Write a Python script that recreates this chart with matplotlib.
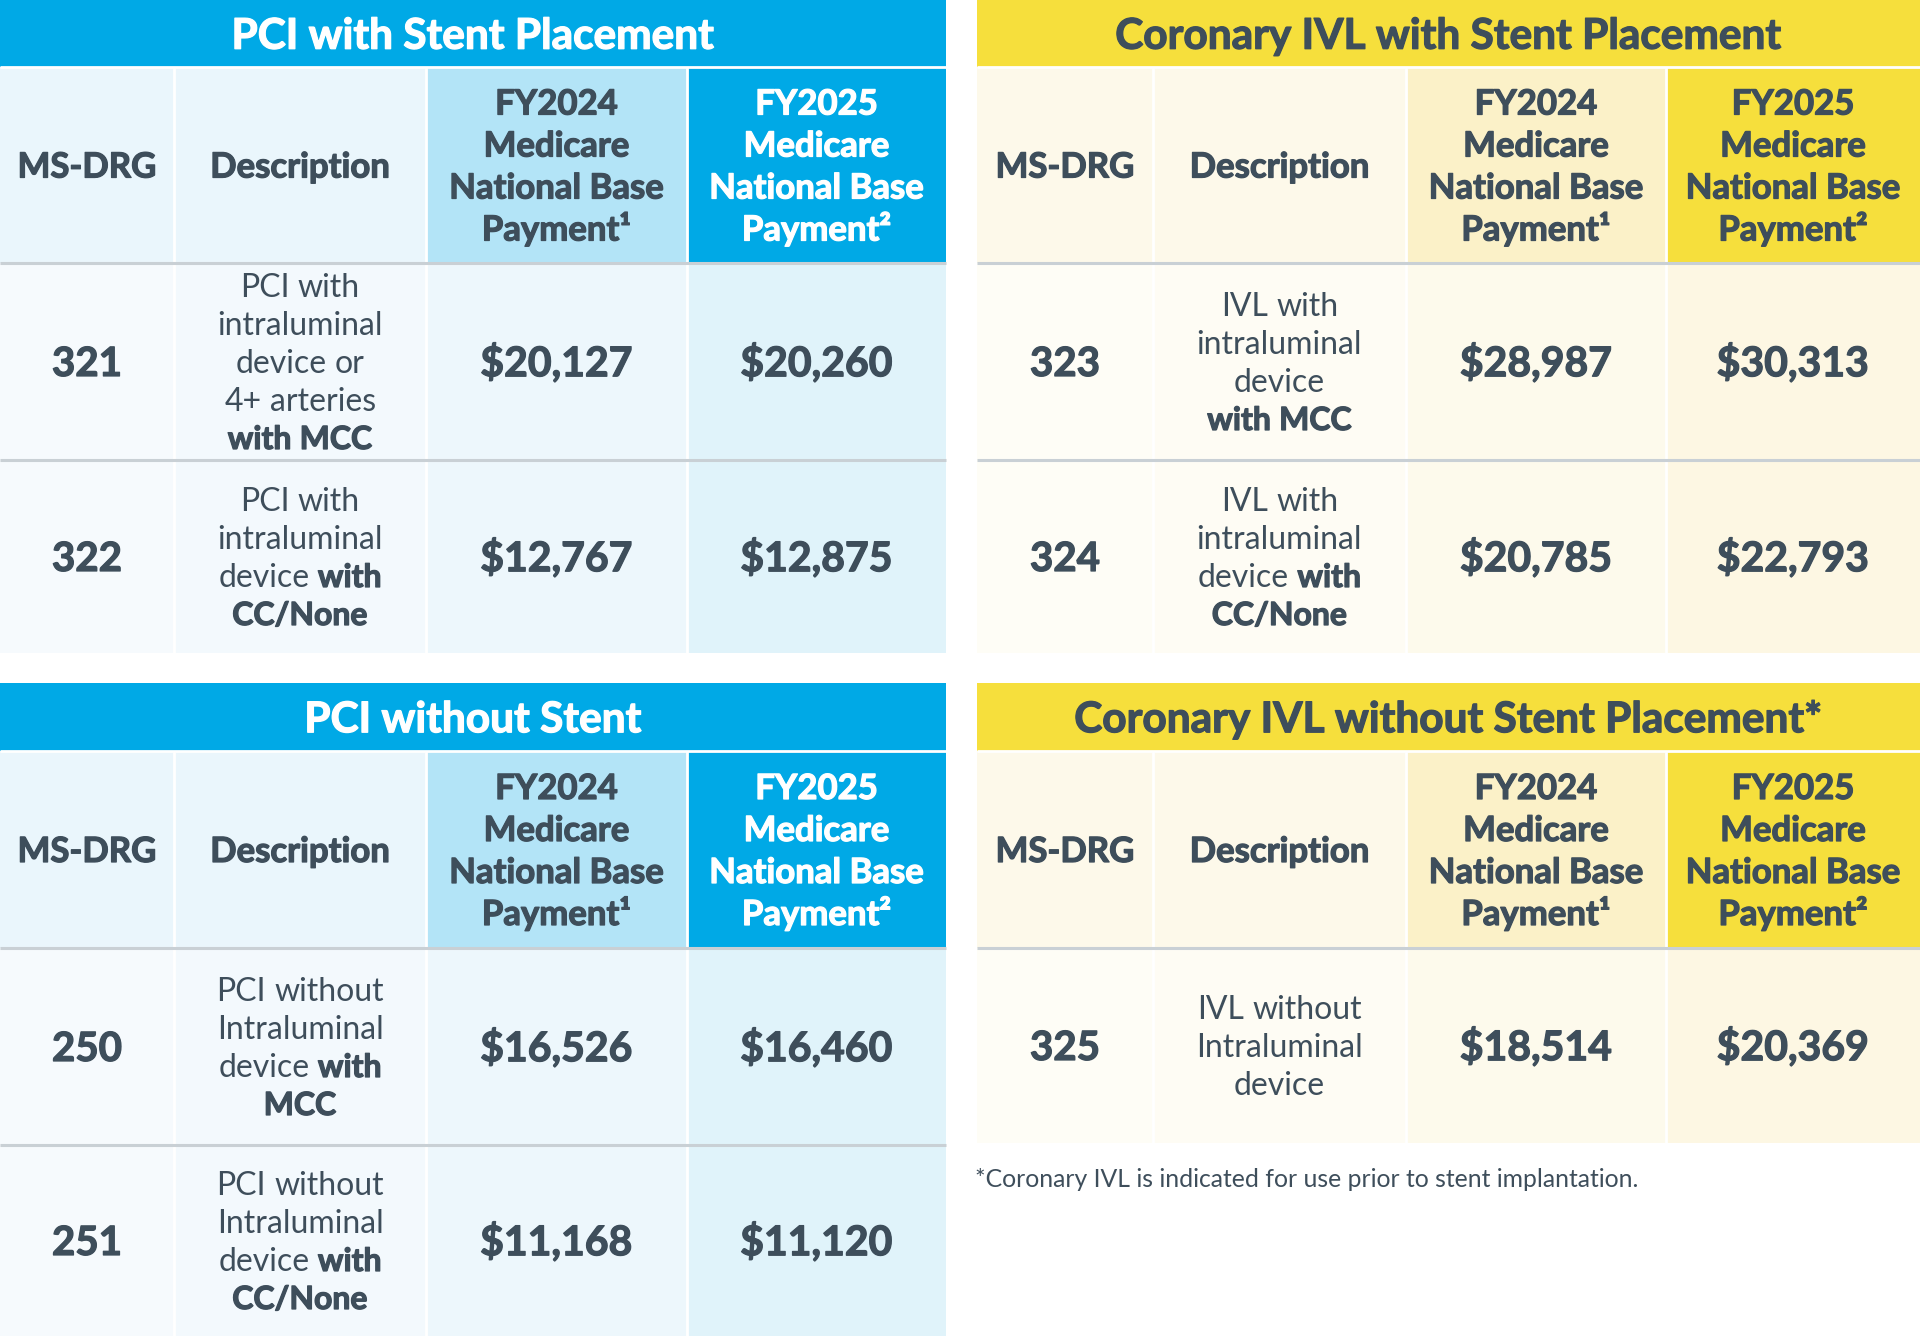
import matplotlib
matplotlib.use("Agg")
import matplotlib.pyplot as plt
import matplotlib.patheffects as pe
from matplotlib.patches import Rectangle

plt.rcParams['font.family'] = ['Lato', 'DejaVu Sans']

# --- data ---
header_labels = ['MS-DRG', 'Description',
                 'FY2024\nMedicare\nNational Base\nPayment¹',
                 'FY2025\nMedicare\nNational Base\nPayment²']

pci_stent_title = 'PCI with Stent Placement'
pci_stent_drg = ['321', '322']
pci_stent_desc = [['PCI with', 'intraluminal', 'device or', '4+ arteries', '**with MCC**'],
                  ['PCI with', 'intraluminal', 'device **with**', '**CC/None**']]
pci_stent_fy2024 = [20127, 12767]
pci_stent_fy2025 = [20260, 12875]

ivl_stent_title = 'Coronary IVL with Stent Placement'
ivl_stent_drg = ['323', '324']
ivl_stent_desc = [['IVL with', 'intraluminal', 'device', '**with MCC**'],
                  ['IVL with', 'intraluminal', 'device **with**', '**CC/None**']]
ivl_stent_fy2024 = [28987, 20785]
ivl_stent_fy2025 = [30313, 22793]

pci_nostent_title = 'PCI without Stent'
pci_nostent_drg = ['250', '251']
pci_nostent_desc = [['PCI without', 'Intraluminal', 'device **with**', '**MCC**'],
                    ['PCI without', 'Intraluminal', 'device **with**', '**CC/None**']]
pci_nostent_fy2024 = [16526, 11168]
pci_nostent_fy2025 = [16460, 11120]

ivl_nostent_title = 'Coronary IVL without Stent Placement*'
ivl_nostent_drg = ['325']
ivl_nostent_desc = [['IVL without', 'Intraluminal', 'device']]
ivl_nostent_fy2024 = [18514]
ivl_nostent_fy2025 = [20369]

footnote = '*Coronary IVL is indicated for use prior to stent implantation.'

# --- styles ---
DARK = '#3E4E5B'
BOLD = 'bold'
REG = 'normal'
BLUE_THEME = dict(title_bg='#00A9E6', title_fg='white',
                  head_bg=['#EAF6FC', '#EAF6FC', '#B3E4F7', '#00A9E6'],
                  head_fg=[DARK, DARK, DARK, 'white'],
                  body_bg=['#F6FAFD', '#F3F9FD', '#EDF7FC', '#E0F3FA'])
YELLOW_THEME = dict(title_bg='#F6DF3C', title_fg=DARK,
                    head_bg=['#FDF9EA', '#FDF9EA', '#FBF1C8', '#F6DF3C'],
                    head_fg=[DARK, DARK, DARK, DARK],
                    body_bg=['#FEFDF6', '#FEFCF4', '#FDFAEC', '#FDF7E3'])

W, H = 1920, 1336
fig = plt.figure(figsize=(W / 100, H / 100), dpi=100)
ax = fig.add_axes([0, 0, 1, 1])
ax.set_xlim(0, W)
ax.set_ylim(H, 0)
ax.axis('off')
renderer = fig.canvas.get_renderer()


def px(size):
    return size * 100 / 72


def put(x, yc, s, size, weight=REG, color=DARK, ha='center'):
    # place text so that cap height is centred on yc
    t = ax.text(x, yc + 0.36 * px(size), s, fontsize=size, fontweight=weight,
                color=color, ha=ha, va='baseline')
    if weight == BOLD:
        # Lato Bold is a bit lighter than the original face, thicken it a little
        t.set_path_effects([pe.withStroke(linewidth=0.9, foreground=color)])
    return t


def text_width(s, size, weight):
    t = ax.text(0, 0, s, fontsize=size, fontweight=weight)
    w = t.get_window_extent(renderer=renderer).width
    t.remove()
    return w


def rich_line(xc, yc, line, size, color=DARK):
    # "**" marks bold words
    words = []
    for i, chunk in enumerate(line.split('**')):
        for w in chunk.split():
            words.append((w, BOLD if i % 2 else REG))
    space = text_width('a a', size, REG) - text_width('aa', size, REG)
    widths = [text_width(w, size, wt) for w, wt in words]
    total = sum(widths) + space * (len(words) - 1)
    x = xc - total / 2
    for (w, wt), wd in zip(words, widths):
        put(x, yc, w, size, wt, color, ha='left')
        x += wd + space


def draw_panel(xs, y_title, y_head, y_rows, title, drg, desc, fy24, fy25, theme):
    x0, x1 = xs[0], xs[-1]
    # title bar
    ax.add_patch(Rectangle((x0, y_title), x1 - x0, y_head - y_title, color=theme['title_bg'], lw=0))
    put((x0 + x1) / 2, (y_title + y_head) / 2, title, 30.5, BOLD, theme['title_fg'])
    # header row
    for i in range(4):
        ax.add_patch(Rectangle((xs[i], y_head), xs[i + 1] - xs[i], y_rows[0] - y_head,
                               color=theme['head_bg'][i], lw=0))
        lines = header_labels[i].split('\n')
        yc = (y_head + y_rows[0]) / 2
        for k, ln in enumerate(lines):
            put((xs[i] + xs[i + 1]) / 2, yc + (k - (len(lines) - 1) / 2) * 42, ln, 25, BOLD,
                theme['head_fg'][i])
    # body rows
    for r in range(len(drg)):
        ya, yb = y_rows[r], y_rows[r + 1]
        yc = (ya + yb) / 2
        for i in range(4):
            ax.add_patch(Rectangle((xs[i], ya), xs[i + 1] - xs[i], yb - ya,
                                   color=theme['body_bg'][i], lw=0))
        put((xs[0] + xs[1]) / 2, yc, drg[r], 29, BOLD)
        n = len(desc[r])
        for k, ln in enumerate(desc[r]):
            rich_line((xs[1] + xs[2]) / 2, yc + (k - (n - 1) / 2) * 38, ln, 23)
        put((xs[2] + xs[3]) / 2, yc, f'${fy24[r]:,}', 29.5, BOLD)
        put((xs[3] + xs[4]) / 2, yc, f'${fy25[r]:,}', 29.5, BOLD)
    # separators
    for xv in xs[1:-1]:
        ax.plot([xv, xv], [y_head, y_rows[-1]], color='white', lw=2, solid_capstyle='butt')
    ax.plot([x0, x1], [y_head, y_head], color='white', lw=2, solid_capstyle='butt')
    for yv in y_rows[:-1]:
        ax.plot([x0, x1], [yv, yv], color='#C9D0D5', lw=2.2, solid_capstyle='butt')


left_cols = [0, 174, 426, 687, 946]
right_cols = [977, 1153, 1406, 1666, 1920]

draw_panel(left_cols, 0, 67, [263, 460, 653], pci_stent_title, pci_stent_drg,
           pci_stent_desc, pci_stent_fy2024, pci_stent_fy2025, BLUE_THEME)
draw_panel(right_cols, 0, 67, [263, 460, 653], ivl_stent_title, ivl_stent_drg,
           ivl_stent_desc, ivl_stent_fy2024, ivl_stent_fy2025, YELLOW_THEME)
draw_panel(left_cols, 683, 751, [948, 1145, 1336], pci_nostent_title, pci_nostent_drg,
           pci_nostent_desc, pci_nostent_fy2024, pci_nostent_fy2025, BLUE_THEME)
draw_panel(right_cols, 683, 751, [948, 1143], ivl_nostent_title, ivl_nostent_drg,
           ivl_nostent_desc, ivl_nostent_fy2024, ivl_nostent_fy2025, YELLOW_THEME)

put(975, 1178, footnote, 17.8, REG, DARK, ha='left')

fig.savefig('out.png', dpi=100, facecolor='white')
